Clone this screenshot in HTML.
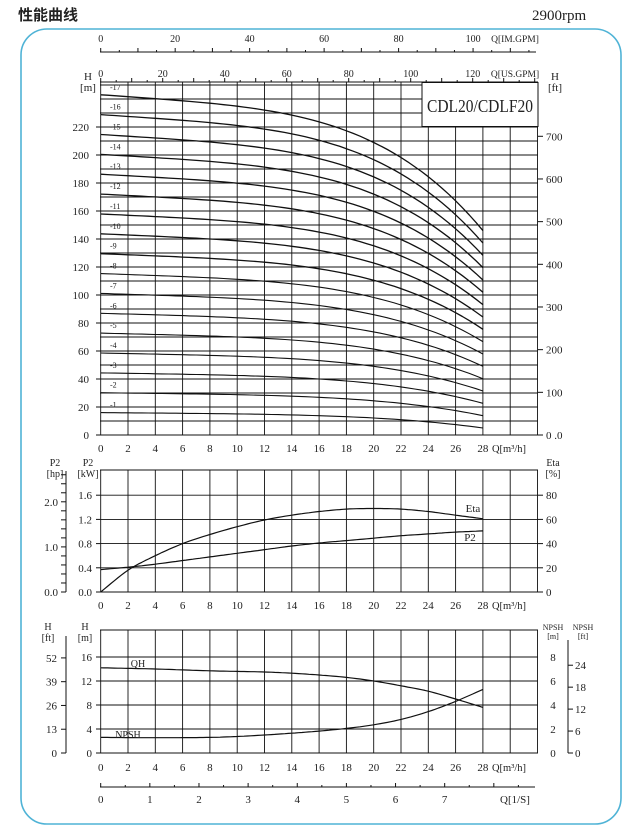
<!DOCTYPE html>
<html><head><meta charset="utf-8"><style>
body{margin:0;background:#fff;width:626px;height:832px;overflow:hidden}
svg{display:block}
text{font-family:"Liberation Serif",serif;fill:#222}
</style></head><body>
<svg id="s" width="626" height="832" viewBox="0 0 626 832" xmlns="http://www.w3.org/2000/svg">
<text x="18" y="20" style="font-family:'Liberation Sans','Noto Sans CJK SC',sans-serif;font-weight:bold;font-size:15px">性能曲线</text>
<text x="532" y="20" font-size="15">2900rpm</text>
<rect x="21" y="29" width="600" height="795" rx="26" fill="none" stroke="#4fb3d6" stroke-width="1.6"/>
<g id="g"></g>
</svg>
<script>
var g=document.getElementById('g');var out='';
function X(q){return 100.7+q*13.65;}
function L(x1,y1,x2,y2,w){out+='<line x1="'+x1+'" y1="'+y1+'" x2="'+x2+'" y2="'+y2+'" stroke="#111" stroke-width="'+(w||1)+'"/>';}
function T(x,y,s,fs,a){out+='<text x="'+x+'" y="'+y+'" font-size="'+(fs||11)+'" text-anchor="'+(a||'middle')+'">'+s+'</text>';}
function P(pts,w){var d='';pts.forEach(function(p,i){d+=(i?'L':'M')+p[0].toFixed(1)+','+p[1].toFixed(1);});out+='<path d="'+d+'" fill="none" stroke="#111" stroke-width="'+(w||1.2)+'" stroke-linejoin="round"/>';}
function interp(tab,q){var n=tab.length;for(var i=0;i<n-1;i++){if(q<=tab[i+1][0]||i==n-2){var x0=tab[i][0],x1=tab[i+1][0],y0=tab[i][1],y1=tab[i+1][1];var h=x1-x0,t=(q-x0)/h;
var m0=i>0?(y1-tab[i-1][1])/(x1-tab[i-1][0]):(y1-y0)/h;var m1=i<n-2?(tab[i+2][1]-y0)/(tab[i+2][0]-x0):(y1-y0)/h;
var t2=t*t,t3=t2*t;return (2*t3-3*t2+1)*y0+(t3-2*t2+t)*h*m0+(-2*t3+3*t2)*y1+(t3-t2)*h*m1;}}return tab[n-1][1];}
var R=538;
// ===== top chart =====
var TY=82,BY=435;function YH(h){return 435-h*1.4;}
L(100,52,R-2,52);
for(var v=0;v<=115;v+=5){var x=X(v*0.2728);L(x,52,x,v%10==0?48:50);}
[0,20,40,60,80,100].forEach(function(v){T(X(v*0.2728),42,v,10);});
T(515,42,'Q[IM.GPM]',9.5);
[0,20,40,60,80,100,120].forEach(function(v){T(X(v*0.2271),77,v,10);});
T(515,77,'Q[US.GPM]',9.5);
for(var v=0;v<=140;v+=5){var x=X(v*0.2271);if(x<=R)L(x,TY,x,TY-(v%10==0?4:2));}
for(var h=0;h<=250;h+=10){L(100,YH(h),R,YH(h),0.9);}
for(var k=0;k<=16;k++){L(X(2*k),TY,X(2*k),BY,0.9);}
L(100,TY,R,TY);L(100,BY,R,BY);
for(var k=0;k<=14;k++){T(X(2*k),452,2*k,11);}
T(509,452,'Q[m³/h]',10.5);
for(var h=0;h<=220;h+=20){T(89,YH(h)+4,h,11,'end');L(96,YH(h),100,YH(h));}
T(88,80,'H',11);T(88,91,'[m]',11);
for(var f=0;f<=700;f+=100){var y=435-f*0.3048*1.4;L(R,y,R+5,y);T(546,y+4,f==0?'0 .0':f,11,'start');}
T(555,80,'H',11);T(555,91,'[ft]',11);
out+='<rect x="422" y="'+(TY+0.5)+'" width="'+(R-422)+'" height="'+(126-TY)+'" fill="#fff" stroke="#111" stroke-width="1"/>';
out+='<text x="427" y="112" font-size="18" textLength="106" lengthAdjust="spacingAndGlyphs">CDL20/CDLF20</text>';
function gq(q){var t=q/28;return 0.2*t+0.8*t*t*t*t;}
for(var n=1;n<=17;n++){var pts=[];for(var q=0;q<=28.01;q+=0.5){var G=gq(q);var h=n*(14.19-5.38*G)+1.8-5.6*G;pts.push([X(q),YH(h)]);}
P(pts,n>8?1.3:1.1);var y0=YH(n*14.19+1.8);out+='<text x="110" y="'+(y0-5)+'" font-size="8" text-anchor="start">-'+n+'</text>';}
// ===== middle chart =====
var MT=470,MB=592;function YK(k){return 592-k*60.5;}
for(var k=0;k<=1.61;k+=0.4){L(100,YK(k),R,YK(k),0.9);T(92,YK(k)+4,k.toFixed(1),11,'end');L(96,YK(k),100,YK(k));}
L(100,MT,R,MT);
for(var k=0;k<=16;k++){L(X(2*k),MT,X(2*k),MB,0.9);}
for(var k=0;k<=14;k++){T(X(2*k),609,2*k,11);}
T(509,609,'Q[m³/h]',10.5);
[0,20,40,60,80].forEach(function(e){var y=YK(e/50);L(R,y,R+5,y);T(546,y+4,e,11,'start');});
T(553,466,'Eta',10);T(553,477,'[%]',10);
T(88,466,'P2',10);T(88,477,'[kW]',10);
T(55,466,'P2',10);T(55,477,'[hp]',10);
L(66,471,66,592);
for(var hp=0;hp<=2.6;hp+=0.2){var y=592-hp*45.1;if(y>=470)L(61,y,66,y);}
[[0,'0.0'],[1,'1.0'],[2,'2.0']].forEach(function(a){T(58,592-a[0]*45.1+4,a[1],11,'end');});
var ETA=[[0,0],[2,0.36],[4,0.6],[6,0.8],[8,0.95],[10,1.08],[12,1.19],[14,1.27],[16,1.33],[18,1.37],[20,1.38],[22,1.37],[24,1.33],[26,1.27],[28,1.21]];
var P2=[[0,0.37],[2,0.41],[4,0.46],[6,0.52],[8,0.58],[10,0.64],[12,0.7],[14,0.76],[16,0.81],[18,0.85],[20,0.89],[22,0.93],[24,0.96],[26,0.99],[28,1.01]];
function curve(tab,fy){var p=[];for(var q=0;q<=28.01;q+=0.25)p.push([X(q),fy(interp(tab,q))]);return p;}
P(curve(ETA,YK),1.2);P(curve(P2,YK),1.2);
T(473,512,'Eta',11);T(470,541,'P2',11);
// ===== bottom chart =====
var BT=630,BB=753;function YM(h){return 753-h*6;}
for(var h=0;h<=16;h+=4){L(100,YM(h),R,YM(h),0.9);T(92,YM(h)+4,h,11,'end');L(96,YM(h),100,YM(h));T(553,YM(h)+4,h/2,11,'middle');}
L(100,BT,R,BT);
for(var k=0;k<=16;k++){L(X(2*k),BT,X(2*k),BB,0.9);}
for(var k=0;k<=14;k++){T(X(2*k),771,2*k,11);}
T(509,771,'Q[m³/h]',10.5);
T(85,630,'H',10);T(85,641,'[m]',10);
T(48,630,'H',10);T(48,641,'[ft]',10);
L(66,636,66,753);
[0,13,26,39,52].forEach(function(f){var y=753-f*0.3048*6;L(61,y,66,y);T(57,y+4,f,11,'end');});
T(553,630,'NPSH',8);T(553,639,'[m]',8);
T(583,630,'NPSH',8);T(583,639,'[ft]',8);
L(568,640,568,753);
[0,6,12,18,24].forEach(function(f){var y=753-f*0.3048*12;L(568,y,573,y);T(575,y+4,f,11,'start');});
var QH=[[0,14.2],[4,14.0],[8,13.7],[12,13.5],[14,13.3],[16,13.0],[18,12.6],[20,12.0],[22,11.2],[24,10.3],[26,9.0],[28,7.6]];
var NP=[[0,2.6],[4,2.55],[8,2.6],[10,2.75],[12,3.0],[14,3.3],[16,3.65],[18,4.1],[20,4.7],[22,5.6],[24,6.9],[26,8.6],[28,10.6]];
P(curve(QH,YM),1.2);P(curve(NP,YM),1.2);
T(138,667,'QH',10);T(128,738,'NPSH',10);
L(100,787,535,787);
for(var v=0;v<=8.7;v+=0.5){var x=100.7+v*49.14;if(x<=535)L(x,787,x,v%1==0?783:785);}
for(var v=0;v<=7;v++){T(100.7+v*49.14,803,v,11);}
T(515,803,'Q[1/S]',11);
g.innerHTML=out;
</script>
</body></html>
